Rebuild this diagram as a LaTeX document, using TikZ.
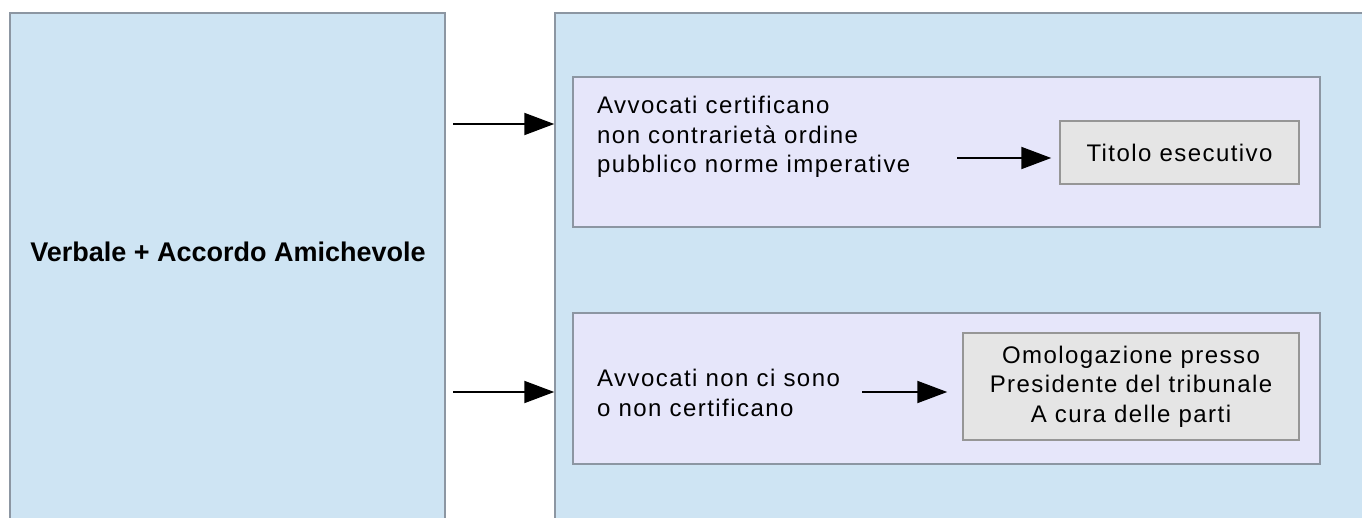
\documentclass[tikz,border=0pt]{standalone}
\usepackage{fontspec}
\setmainfont{Liberation Sans}[LetterSpace=6]
\newfontfamily\headfont{Liberation Sans}
\usetikzlibrary{arrows.meta}
\definecolor{paleblue}{RGB}{206,228,243}
\definecolor{lavender}{RGB}{230,230,250}
\definecolor{boxgray}{RGB}{229,229,229}
\definecolor{edgegray}{RGB}{140,150,162}
\definecolor{resultedge}{RGB}{150,150,150}
\newcommand{\txtsize}{\fontsize{24}{29.5}\selectfont}

\begin{document}
\begin{tikzpicture}[x=1pt,y=-1pt,
    outerbox/.style={draw=edgegray,line width=1.5pt,fill=paleblue,inner sep=0pt},
    innerbox/.style={draw=edgegray,line width=1.5pt,fill=lavender,inner sep=0pt},
    resultbox/.style={draw=resultedge,line width=1.5pt,fill=boxgray,align=center,
      inner sep=0pt,font=\txtsize},
    plaintext/.style={align=left,anchor=west,inner sep=0pt,font=\txtsize},
    flow/.style={-{Triangle[length=30pt,width=22pt]},line width=2pt}]
  \useasboundingbox (0,0) rectangle (1362,518);
  \clip (0,0) rectangle (1362,518);

  %outer boxes
  \node[outerbox,minimum width=435pt,minimum height=530pt] (verbale) at (227.5,278) {};
  \node[font=\headfont\bfseries\fontsize{27}{30}\selectfont,inner sep=0pt] (verbaletxt)
      at (228,252) {Verbale + Accordo Amichevole};
  \node[outerbox,minimum width=830pt,minimum height=530pt] (esito) at (970,278) {};

  %upper case
  \node[innerbox,minimum width=747pt,minimum height=150pt] (certif) at (946.5,152) {};
  \node[plaintext] (certiftxt) at (597,137)
      {Avvocati certificano\\non contrariet\`a ordine\\pubblico norme imperative};
  \node[resultbox,minimum width=239pt,minimum height=63pt] (titolo) at (1179.5,152.5)
      {Titolo esecutivo};

  %lower case
  \node[innerbox,minimum width=747pt,minimum height=151pt] (noncertif) at (946.5,388.5) {};
  \node[plaintext] (noncertiftxt) at (597,393)
      {Avvocati non ci sono\\o non certificano};
  \node[resultbox,minimum width=336pt,minimum height=107pt] (omolog) at (1131,386.5)
      {Omologazione presso\\Presidente del tribunale\\A cura delle parti};

  %arrows
  \coordinate (from1) at (453,124);
  \coordinate (from2) at (453,392);
  \coordinate (from3) at (957,158);
  \coordinate (from4) at (862,392);
  \draw[flow] (from1) -- (from1 -| esito.west);
  \draw[flow] (from2) -- (from2 -| esito.west);
  \draw[flow,shorten >=8pt] (from3) -- (from3 -| titolo.west);
  \draw[flow,shorten >=15pt] (from4) -- (from4 -| omolog.west);
\end{tikzpicture}
\end{document}
